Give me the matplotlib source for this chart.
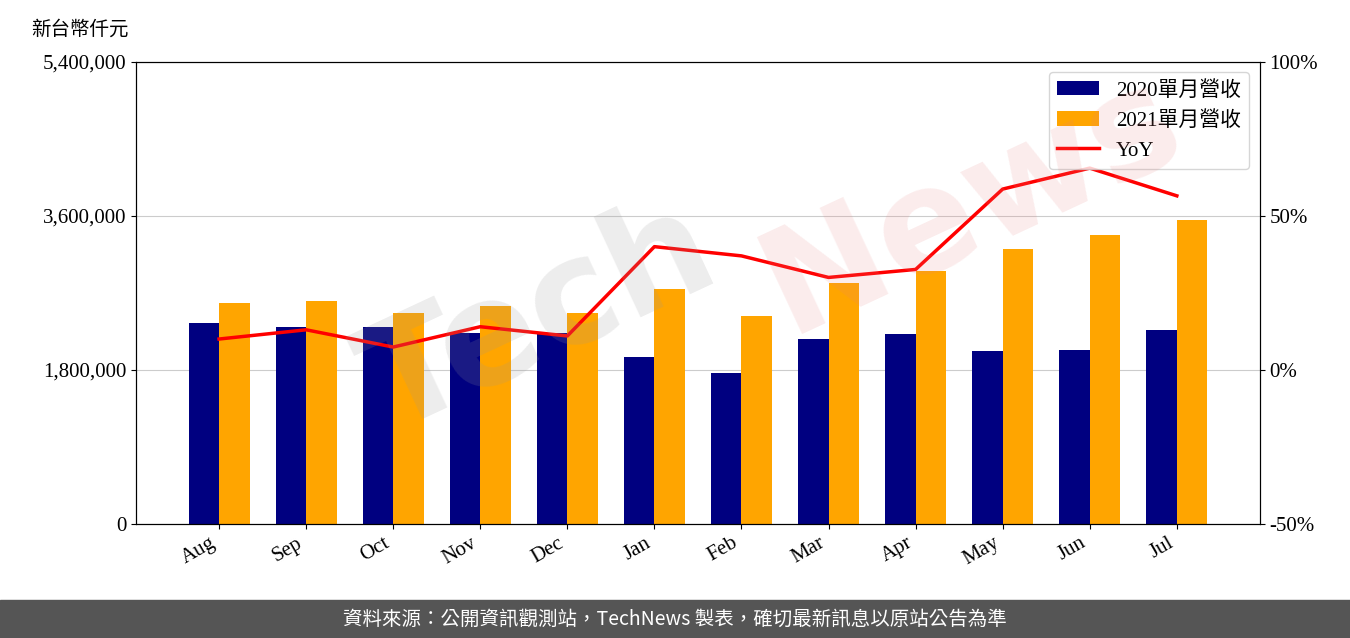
import numpy as np
import matplotlib.pyplot as plt
from matplotlib.ticker import FuncFormatter

months = ["Aug", "Sep", "Oct", "Nov", "Dec", "Jan", "Feb", "Mar", "Apr", "May", "Jun", "Jul"]
rev_2020 = [2350000, 2300000, 2300000, 2230000, 2230000, 1950000, 1760000, 2160000, 2220000, 2020000, 2030000, 2270000]
rev_2021 = [2580000, 2610000, 2470000, 2550000, 2470000, 2750000, 2430000, 2820000, 2950000, 3210000, 3380000, 3550000]
yoy = [10.0, 13.0, 7.4, 14.0, 11.0, 40.0, 37.0, 30.0, 32.6, 58.7, 65.5, 56.5]

plt.rcParams["font.family"] = ["Liberation Serif", "Noto Sans CJK TC"]
cjk = ["Noto Sans CJK TC"]

fig = plt.figure(figsize=(13.5, 6.38), dpi=100)
ax = fig.add_axes([0.101, 0.179, 0.832, 0.724])
x = np.arange(len(months))
w = 0.35
ax.bar(x - w / 2, rev_2020, w, color="#000080", label="2020單月營收", zorder=2)
ax.bar(x + w / 2, rev_2021, w, color="#FFA500", label="2021單月營收", zorder=2)
ax.set_ylim(0, 5400000)
ax.set_yticks([0, 1800000, 3600000, 5400000])
ax.yaxis.set_major_formatter(FuncFormatter(lambda v, p: f"{int(v):,}"))
ax.grid(axis="y", color="#cccccc", zorder=0)
ax.set_xlim(-0.95, 11.95)
ax.set_xticks(x)
ax.set_xticklabels(months, rotation=30, ha="right")
ax.tick_params(labelsize=15)

ax2 = ax.twinx()
ax2.plot(x, yoy, color="red", lw=2.5, label="YoY")
ax2.set_ylim(-50, 100)
ax2.set_yticks([-50, 0, 50, 100])
ax2.yaxis.set_major_formatter(FuncFormatter(lambda v, p: f"{int(v)}%"))
ax2.tick_params(labelsize=15)

h1, l1 = ax.get_legend_handles_labels()
h2, l2 = ax2.get_legend_handles_labels()
ax2.legend(h1 + h2, l1 + l2, loc="upper right",
           prop={"family": ["Liberation Serif", "Noto Sans CJK TC"], "size": 15})

fig.text(0.023, 0.955, "新台幣仟元", family=cjk, fontsize=14, ha="left", va="center")

# watermark
fig.text(0.40, 0.50, "Tech", fontsize=105, fontweight="bold", family="DejaVu Sans",
         color="#999999", alpha=0.18, rotation=25, ha="center", va="center", zorder=5)
fig.text(0.72, 0.68, "News", fontsize=105, fontweight="bold", family="DejaVu Sans",
         color="#e88080", alpha=0.15, rotation=25, ha="center", va="center", zorder=5)

fig.patches.append(plt.Rectangle((0, 0), 1, 0.06, transform=fig.transFigure,
                                 color="#555555", zorder=-1))
fig.text(0.5, 0.03, "資料來源：公開資訊觀測站，TechNews 製表，確切最新訊息以原站公告為準",
         family=["Noto Sans CJK TC", "DejaVu Sans"], color="white", fontsize=14,
         ha="center", va="center")

fig.savefig("out.png", dpi=100)
